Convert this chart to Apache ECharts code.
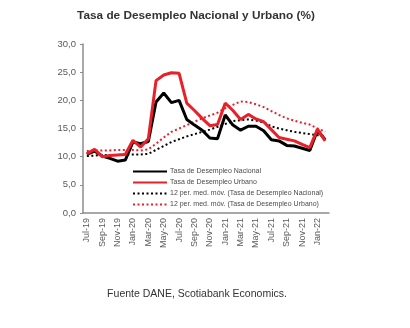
<!DOCTYPE html>
<html><head><meta charset="utf-8">
<script src="https://cdn.jsdelivr.net/npm/echarts@6/dist/echarts.min.js"></script>
<style>html,body{margin:0;padding:0;background:#fff}#c{width:410px;height:328px}</style>
</head><body><div id="c"></div>
<script>
var categories = ["Jul-19","Aug-19","Sep-19","Oct-19","Nov-19","Dec-19","Jan-20","Feb-20","Mar-20","Apr-20","May-20","Jun-20","Jul-20","Aug-20","Sep-20","Oct-20","Nov-20","Dec-20","Jan-21","Feb-21","Mar-21","Apr-21","May-21","Jun-21","Jul-21","Aug-21","Sep-21","Oct-21","Nov-21","Dec-21","Jan-22","Feb-22"];
var nacional = [10.4,11.0,10.1,9.7,9.2,9.4,12.6,12.3,12.7,19.7,21.3,19.6,20.0,16.6,15.6,14.7,13.3,13.2,17.4,15.6,14.7,15.4,15.4,14.6,13.0,12.8,12.0,11.9,11.5,11.1,14.7,13.0];
var urbano = [10.5,11.3,10.0,10.2,10.3,10.4,12.9,11.7,13.2,23.5,24.5,24.9,24.8,19.5,18.2,16.8,15.5,15.7,19.5,18.2,16.6,17.5,16.7,16.2,14.8,13.4,13.1,12.8,12.2,11.6,14.9,12.8];
var maNacional = [10.1,10.2,10.3,10.3,10.3,10.4,10.4,10.4,10.5,11.2,11.9,12.6,13.1,13.6,14.0,14.4,14.8,15.3,15.8,16.3,16.5,16.6,16.4,16.1,15.4,15.0,14.7,14.4,14.2,14.0,13.8,13.7];
var maUrbano = [11.0,11.1,11.1,11.1,11.2,11.2,11.2,11.1,11.3,12.3,13.4,14.4,15.0,15.6,16.2,16.8,17.3,17.8,18.6,19.2,19.8,19.7,19.3,18.8,18.1,17.4,16.8,16.4,16.0,15.7,15.0,14.4];
var yTicks = [0,5,10,15,20,25,30];
var names = ["Tasa de Desempleo Nacional","Tasa de Desempleo Urbano","12 per. med. móv. (Tasa de Desempleo Nacional)","12 per. med. móv. (Tasa de Desempleo Urbano)"];

var RED = '#e8202a';
var chart = echarts.init(document.getElementById('c'), null, {renderer:'canvas'});
chart.setOption({
  animation:false,
  title:[{text:'Tasa de Desempleo Nacional y Urbano (%)', left:191, textAlign:'center', top:5,
    textStyle:{fontFamily:'Liberation Sans, Arial', fontSize:11.8, fontWeight:'bold', color:'#333'}},
    {text:'Fuente DANE, Scotiabank Economics.', left:192, textAlign:'center', top:284,
    textStyle:{fontFamily:'Liberation Sans, Arial', fontSize:10.5, fontWeight:'normal', color:'#333'}}],
  grid:{left:83, right:81, top:44, bottom:115, containLabel:false},
  legend:{orient:'vertical', left:127, top:163, itemWidth:34, itemHeight:7, itemGap:4,
    data:names,
    itemStyle:{opacity:0},
    textStyle:{fontFamily:'Liberation Sans, Arial', fontSize:7, color:'#4a4a4a', padding:[0,0,0,-2]}},
  xAxis:{type:'category', data:categories, boundaryGap:true,
    axisLine:{lineStyle:{color:'#8c8c8c', width:1.5}},
    axisTick:{interval:1, length:4, lineStyle:{color:'#8c8c8c'}},
    axisLabel:{interval:1, rotate:90, fontFamily:'Liberation Sans, Arial', fontSize:9, color:'#595959', margin:5}},
  yAxis:{type:'value', min:0, max:30, interval:5,
    splitLine:{show:false},
    axisLine:{show:true, lineStyle:{color:'#8c8c8c', width:1.5}},
    axisTick:{show:true, length:3, lineStyle:{color:'#8c8c8c'}},
    axisLabel:{fontFamily:'Liberation Sans, Arial', fontSize:9.5, color:'#595959', margin:7,
      formatter:function(v){return v.toFixed(1).replace('.',',');}}},
  series:[
    {name:names[0], type:'line', data:nacional, symbol:'none', lineStyle:{color:'#000', width:3}, itemStyle:{color:'#000'}, z:4},
    {name:names[1], type:'line', data:urbano, symbol:'none', lineStyle:{color:RED, width:3}, itemStyle:{color:RED}, z:5},
    {name:names[2], type:'line', data:maNacional, symbol:'none', lineStyle:{color:'#000', width:2, type:[2,2.5]}, itemStyle:{color:'#000'}, z:3},
    {name:names[3], type:'line', data:maUrbano, symbol:'none', lineStyle:{color:RED, width:2, type:[2,2.5]}, itemStyle:{color:RED}, z:3}
  ]
});
</script></body></html>
